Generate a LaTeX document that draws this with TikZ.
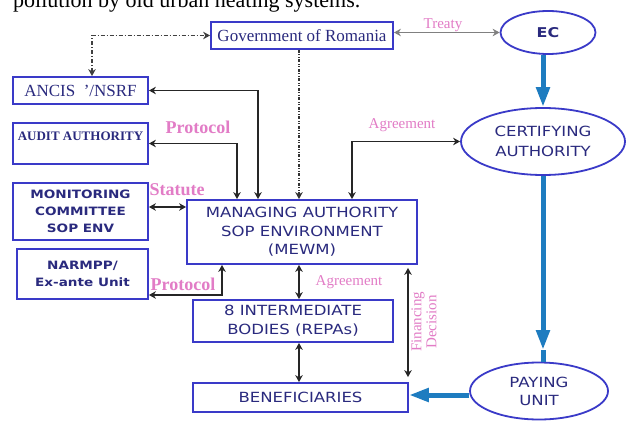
\documentclass[tikz,border=0pt]{standalone}
\usepackage{fontspec}
\setmainfont{Liberation Serif}
\newfontfamily\wsans[FakeStretch=1.18]{DejaVu Sans}
\usetikzlibrary{arrows.meta,shapes.geometric}
\definecolor{boxblue}{HTML}{3A3AC8}
\definecolor{navy}{HTML}{2A2A7E}
\definecolor{pinkl}{HTML}{E27CC6}
\definecolor{steel}{HTML}{1E7CC0}
\begin{document}
\begin{tikzpicture}[x=1pt,y=-1pt,
  box/.style={draw=boxblue,line width=1.8pt,rectangle,inner sep=0pt,text=navy},
  ell/.style={draw=boxblue,line width=1.8pt,ellipse,inner sep=0pt,text=navy},
  sanstext/.style={font=\wsans\fontsize{14}{18.5}\selectfont,align=center},
  sansbold/.style={font=\wsans\bfseries\fontsize{11.5}{17}\selectfont,align=center},
  conn/.style={line width=1.6pt,black!85,{Stealth[length=7pt,width=7.5pt]}-{Stealth[length=7pt,width=7.5pt]}},
  ddash/.style={line width=1.4pt,black!75,dash pattern=on 4pt off 2pt on 1pt off 2pt,{Stealth[length=7pt,width=7.5pt]}-{Stealth[length=7pt,width=7.5pt]}},
  ddot/.style={line width=1.4pt,black!80,dash pattern=on 3pt off 1.5pt on 1pt off 1.5pt on 1pt off 1.5pt,-{Stealth[length=7pt,width=7.5pt]}},
  blueline/.style={line width=5pt,steel},
  bluearr/.style={blueline,-{Triangle[length=20pt,width=13pt]}},
  lab/.style={text=pinkl,font=\fontsize{15}{15}\selectfont,inner sep=0pt},
  labb/.style={text=pinkl,font=\bfseries\fontsize{18}{18}\selectfont,inner sep=0pt}
]
\useasboundingbox (0,0) rectangle (626,422);
\fill[white] (0,0) rectangle (626,422);

% clipped heading line at top
\node[anchor=base west,inner sep=0pt,font=\fontsize{22}{26}\selectfont] (head) at (13,8) {pollution by old urban heating systems.};

% nodes
\node[box,minimum width=182pt,minimum height=27pt,font=\fontsize{17}{20}\selectfont] (gov) at (302,35.5) {Government of Romania};
\node[ell,minimum width=95pt,minimum height=43pt,font=\wsans\bfseries\fontsize{13.5}{15}\selectfont] (ec) at (548,32.5) {EC};
\node[box,minimum width=135pt,minimum height=27pt,font=\fontsize{17}{20}\selectfont] (ancis) at (80.5,90.5) {ANCIS \ '/NSRF};
\node[box,minimum width=135pt,minimum height=41pt] (audit) at (80.5,143.5) {};
\node[text=navy,inner sep=0pt,font=\bfseries\fontsize{13}{14}\selectfont] (auditt) at (80.5,136) {AUDIT AUTHORITY};
\node[box,sansbold,minimum width=135pt,minimum height=57pt] (mon) at (80.5,211.5) {MONITORING\\COMMITTEE\\SOP ENV};
\node[box,sansbold,minimum width=131pt,minimum height=50pt] (narm) at (82.5,274) {NARMPP/\\Ex-ante Unit};
\node[box,sanstext,minimum width=230pt,minimum height=64pt] (ma) at (302,232) {MANAGING AUTHORITY\\SOP ENVIRONMENT\\(MEWM)};
\node[ell,sanstext,font=\wsans\fontsize{14}{20}\selectfont,minimum width=164pt,minimum height=67pt] (cert) at (543,141.5) {CERTIFYING\\AUTHORITY};
\node[box,sanstext,font=\wsans\fontsize{14}{19}\selectfont,minimum width=200pt,minimum height=42pt] (ib) at (293,321) {8 INTERMEDIATE\\BODIES (REPAs)};
\node[box,sanstext,minimum width=215pt,minimum height=29pt] (ben) at (300.5,397.5) {BENEFICIARIES};
\node[ell,sanstext,font=\wsans\fontsize{14}{18}\selectfont,minimum width=138pt,minimum height=57pt] (pay) at (539,391) {PAYING\\UNIT};

% labels
\node[lab] (ltreaty) at (443,25) {Treaty};
\node[labb] (lprot1) at (198,127) {Protocol};
\node[labb] (lstat) at (177,190) {Statute};
\node[lab] (lagr1) at (402,125) {Agreement};
\node[labb] (lprot2) at (183,284) {Protocol};
\node[lab] (lagr2) at (349,282) {Agreement};
\node[lab,rotate=90,align=center,font=\fontsize{15}{15}\selectfont] (lfin) at (424,322) {Financing\\Decision};

% connectors
\draw[conn,gray] (gov.east |- ec.west) -- (ec.west);
\draw[ddash] ([xshift=11.5pt]ancis.north) |- (gov.west);
\draw[conn] (ancis.east) -| ([xshift=-44pt]ma.north);
\draw[conn] (audit.east) -| ([xshift=-65pt]ma.north);
\draw[ddot] ([xshift=-3pt]gov.south) -- ([xshift=-3pt]ma.north);
\draw[conn] ([xshift=50pt]ma.north) |- (cert.west);
\draw[conn,line width=1.9pt] ([yshift=4.5pt]mon.east) -- ([yshift=4.5pt]mon.east -| ma.west);
\draw[conn] ([yshift=-21pt]narm.east) -| ([xshift=-80pt]ma.south);
\draw[conn] ([xshift=-3pt]ma.south) -- ([xshift=-3pt]ma.south |- ib.north);
\draw[conn] ([xshift=6pt]ib.south) -- ([xshift=6pt]ib.south |- ben.north);
\draw[conn,shorten <=3pt,shorten >=5pt] ([xshift=106pt]ma.south) -- ([xshift=106pt]ma.south |- ben.north);

% blue flows
\draw[bluearr] (cert.north |- ec.south) -- (cert.north);
\coordinate (tip) at (543,350);
\draw[blueline] (tip) -- (cert.south |- pay.north);
\draw[bluearr] (cert.south) -- (tip);
\draw[bluearr] ([yshift=-4pt]pay.west) -- ([yshift=-4pt]pay.west -| ben.east);
\end{tikzpicture}
\end{document}
